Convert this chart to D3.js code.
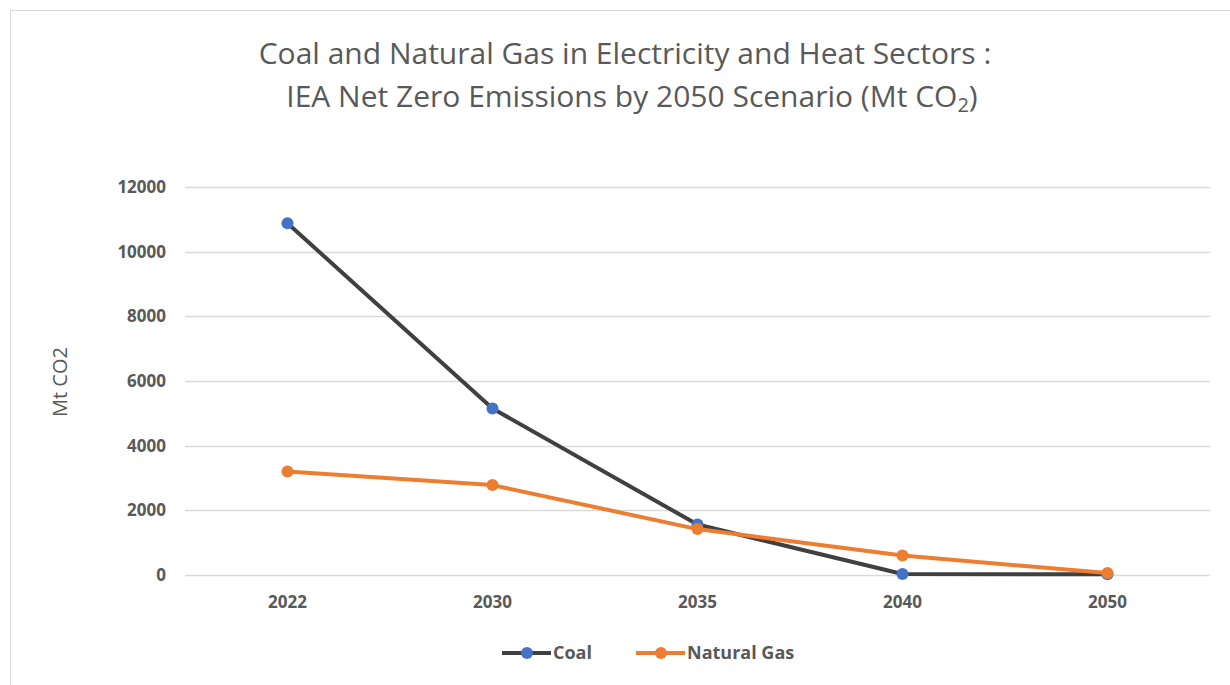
<!DOCTYPE html>
<html>
<head>
<meta charset="utf-8">
<script src="https://cdn.jsdelivr.net/npm/d3@7"></script>
<style>
  body { margin: 0; background: #fff; }
  svg { display: block; }
</style>
</head>
<body>
<svg class="chart"></svg>
<script>
var width = 1230;
var height = 685;

var years = ["2022", "2030", "2035", "2040", "2050"];
var coal = [10880, 5150, 1560, 30, 20];
var gas = [3200, 2780, 1420, 600, 60];
var yTicks = [0, 2000, 4000, 6000, 8000, 10000, 12000];
var seriesNames = ["Coal", "Natural Gas"];

var textGray = "#595959";
var font = "'Open Sans', sans-serif";

var chart = d3.select(".chart")
    .attr("width", width)
    .attr("height", height);

// frame around the chart area
chart.append("rect")
    .attr("x", 10.5).attr("y", 10.5)
    .attr("width", 1240).attr("height", 700)
    .attr("fill", "#fff")
    .attr("stroke", "#d9d9d9");

var x = d3.scaleBand()
    .domain(years)
    .range([185, 1210]);

var y = d3.scaleLinear()
    .domain([0, 12000])
    .range([575, 187]);

// title
var title = chart.append("text")
    .attr("text-anchor", "middle")
    .attr("fill", textGray)
    .style("font-family", font)
    .style("font-size", "30px");
title.append("tspan").attr("x", 625).attr("y", 64)
    .text("Coal and Natural Gas in Electricity and Heat Sectors :");
var t2 = title.append("tspan").attr("x", 632).attr("y", 107)
    .text("IEA Net Zero Emissions by 2050 Scenario (Mt CO");
t2.append("tspan").style("font-size", "20px").attr("dy", 5).text("2");
t2.append("tspan").attr("dy", -5).text(")");

// gridlines
chart.append("g")
    .selectAll("line")
    .data(yTicks)
    .enter()
    .append("line")
    .attr("x1", 185).attr("x2", 1210)
    .attr("y1", function(d) { return Math.round(y(d)) + 0.5; })
    .attr("y2", function(d) { return Math.round(y(d)) + 0.5; })
    .attr("stroke", "#d9d9d9")
    .attr("stroke-width", 1.5);

// y axis labels
var yAxis = d3.axisLeft(y).tickValues(yTicks).tickFormat(d3.format("d"))
    .tickSize(0).tickPadding(0);
var yG = chart.append("g")
    .attr("transform", "translate(166,0)")
    .call(yAxis);
yG.select(".domain").remove();
yG.selectAll("text")
    .attr("fill", textGray)
    .style("font-family", font)
    .style("font-size", "17px")
    .style("font-weight", "bold");

// x axis labels
var xAxis = d3.axisBottom(x).tickSize(0).tickPadding(0);
var xG = chart.append("g")
    .attr("transform", "translate(0,596)")
    .call(xAxis);
xG.select(".domain").remove();
xG.selectAll("text")
    .attr("fill", textGray)
    .style("font-family", font)
    .style("font-size", "17px")
    .style("font-weight", "bold");

// axis title
chart.append("text")
    .attr("transform", "translate(67,382) rotate(-90)")
    .attr("text-anchor", "middle")
    .attr("fill", textGray)
    .style("font-family", font)
    .style("font-size", "20px")
    .text("Mt CO2");

var line = d3.line()
    .x(function(d, i) { return x(years[i]) + x.bandwidth() / 2; })
    .y(function(d) { return y(d); });

function drawSeries(values, lineColor, markColor) {
    chart.append("path")
        .datum(values)
        .attr("fill", "none")
        .attr("stroke", lineColor)
        .attr("stroke-width", 4)
        .attr("stroke-linejoin", "round")
        .attr("d", line);
    chart.append("g")
        .selectAll("circle")
        .data(values)
        .enter()
        .append("circle")
        .attr("cx", function(d, i) { return x(years[i]) + x.bandwidth() / 2; })
        .attr("cy", function(d) { return y(d); })
        .attr("r", 6)
        .attr("fill", markColor);
}

drawSeries(coal, "#404040", "#4472c4");
drawSeries(gas, "#ed7d31", "#ed7d31");

// legend
var legendItems = [
    { name: seriesNames[0], x0: 502, line: "#404040", mark: "#4472c4" },
    { name: seriesNames[1], x0: 636, line: "#ed7d31", mark: "#ed7d31" }
];
var lg = chart.append("g")
    .selectAll("g")
    .data(legendItems)
    .enter()
    .append("g")
    .attr("transform", function(d) { return "translate(" + d.x0 + ",653)"; });
lg.append("line")
    .attr("x1", 0).attr("x2", 49)
    .attr("stroke", function(d) { return d.line; })
    .attr("stroke-width", 4);
lg.append("circle")
    .attr("cx", 25).attr("r", 6)
    .attr("fill", function(d) { return d.mark; });
lg.append("text")
    .attr("x", 51).attr("dy", "0.35em")
    .attr("fill", textGray)
    .style("font-family", font)
    .style("font-size", "18px")
    .style("font-weight", "bold")
    .text(function(d) { return d.name; });
</script>
</body>
</html>
